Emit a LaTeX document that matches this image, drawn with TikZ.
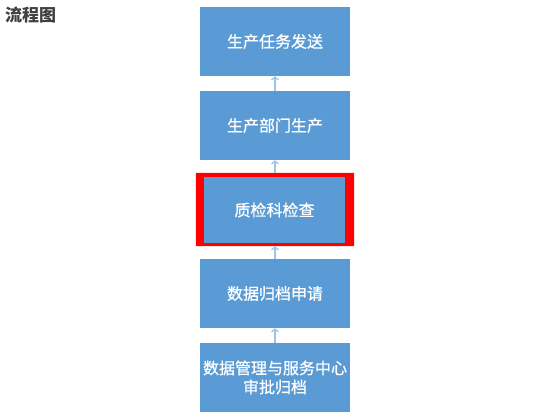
\documentclass[tikz,border=0pt]{standalone}
\usepackage{fontspec}
\newfontfamily\cjk{Noto Sans CJK SC}
\newfontfamily\cjkm[FakeBold=0.7]{Noto Sans CJK SC}
\usetikzlibrary{arrows.meta,calc}
\definecolor{boxblue}{HTML}{5B9BD5}
\definecolor{arrblue}{HTML}{9DC3E6}
\definecolor{titlegray}{HTML}{404040}
\tikzset{
  flowbox/.style={rectangle, fill=boxblue, text=white, minimum width=150pt, minimum height=69pt, inner sep=0pt, align=center, font=\cjkm\fontsize{16}{19}\selectfont},
  flowarrow/.style={draw=arrblue, line width=1.2pt, -{Straight Barb[length=3pt,width=7pt]}},
  titletext/.style={text=titlegray, font=\cjk\bfseries\fontsize{17}{19}\selectfont, inner sep=0pt, anchor=west}
}
\begin{document}
\begin{tikzpicture}[x=1pt,y=-1pt]
\useasboundingbox (0,0) rectangle (550,420);
\node[titletext] (title) at (5,15) {流程图};
\node[flowbox] (b1) at (275,41.5) {生产任务发送};
\node[flowbox] (b2) at (275,125.5) {生产部门生产};
\node[flowbox, minimum width=141pt, minimum height=66pt] (b3) at (274.5,210) {质检科检查};
\fill[red, even odd rule] ($(b3.south west)+(-8,3)$) rectangle ($(b3.north east)+(9,-4)$)
  (b3.south west) rectangle (b3.north east);
\node[flowbox] (b4) at (275,293.5) {数据归档申请};
\node[flowbox] (b5) at (275,377.5) {数据管理与服务中心\\审批归档};
\draw[flowarrow] (b2.north) -- (b1.south);
\draw[flowarrow] ($(b3.north)+(0.5,-4)$) -- (b2.south);
\draw[flowarrow] (b4.north) -- ($(b3.south)+(0.5,3)$);
\draw[flowarrow] (b5.north) -- (b4.south);
\end{tikzpicture}
\end{document}
